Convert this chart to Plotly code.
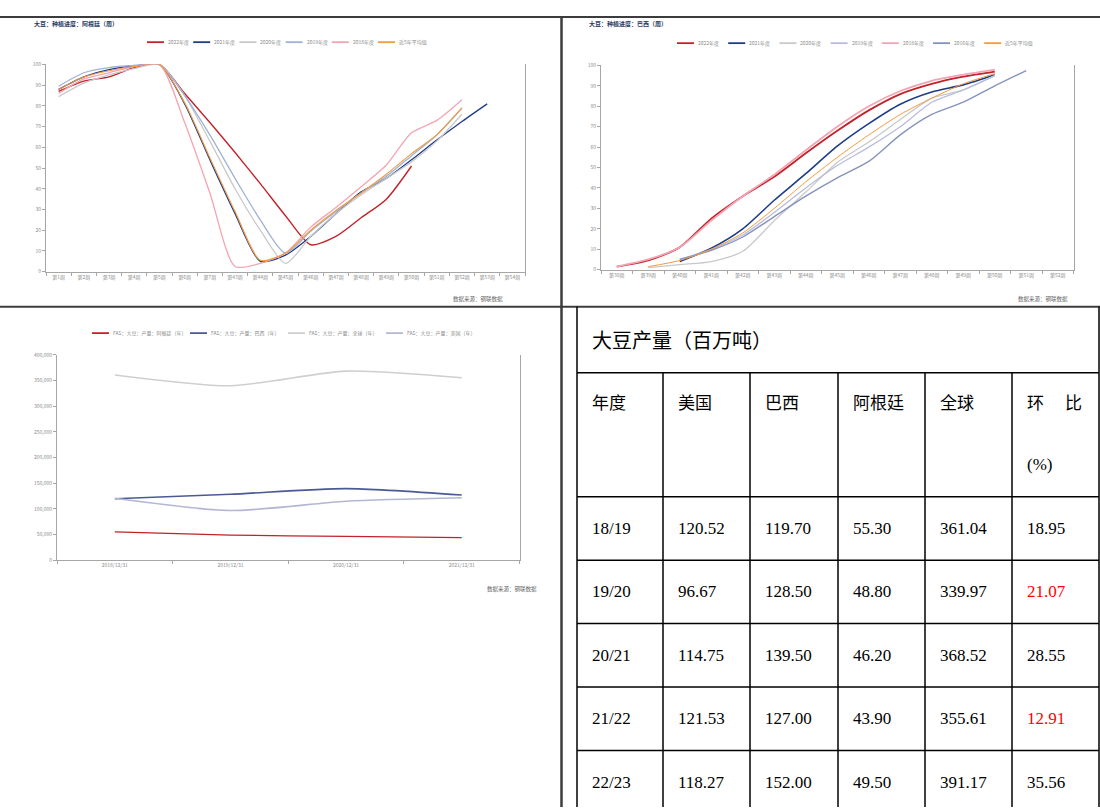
import plotly.graph_objects as go

W, H = 1100, 810
def X(p): return p / W
def Y(p): return 1 - p / H

# ---------------- data: Argentina planting progress (weekly, %) ----------------
ar_weeks = ["第1周", "第2周", "第3周", "第4周", "第5周", "第6周", "第7周", "第43周", "第44周",
            "第45周", "第46周", "第47周", "第48周", "第49周", "第50周", "第51周", "第52周",
            "第53周", "第54周"]
ar_names = ["2022年度", "2021年度", "2020年度", "2019年度", "2018年度", "近5年平均值"]
ar_2022 = [87, 92, 94, 98.5, 100, 86, 72, 57.5, 42.5, 27, 13, 17, 26, 35, 51, None, None, None, None]
ar_2021 = [88, 94, 97.5, 99.5, 100, 81, 54, 28, 5, 8, 17, 28, 38.5, 45, 54, 63.5, 72.5, 81, None]
ar_2020 = [84.5, 91, 95, 98, 100, 85, 63, 40, 20, 4, 17, 28, 37, 45, 53, 63, 76, None, None]
ar_2019 = [89.5, 96, 98.5, 99.5, 100, 85, 66, 45, 25, 9, 19.5, 29, 38, 46, 56, 66, 79, None, None]
ar_2018 = [86, 93, 96, 99, 100, 72, 38, 2.5, 4, 9, 21.5, 31, 41, 51.5, 67, 73, 83, None, None]
ar_avg5 = [88, 94, 97, 99, 100, 81.5, 55, 29, 5.5, 9, 20, 29.5, 38, 47, 57, 66, 79, None, None]

# ---------------- data: Brazil planting progress (weekly, %) ----------------
br_weeks = ["第38周", "第39周", "第40周", "第41周", "第42周", "第43周", "第44周", "第45周",
            "第46周", "第47周", "第48周", "第49周", "第50周", "第51周", "第52周"]
br_names = ["2022年度", "2021年度", "2020年度", "2019年度", "2018年度", "2016年度", "近5年平均值"]
br_2022 = [1.5, 4.5, 11, 25, 36, 45.5, 57, 68, 78, 86, 91, 94.5, 97, None, None]
br_2021 = [None, None, 4, 10.5, 20, 34, 47, 60.5, 71.5, 81, 87, 90.5, 95.5, None, None]
br_2020 = [None, 1, 2.5, 4, 9, 24, 38, 52.5, 62.5, 73.5, 84, 88, 95, None, None]
br_2019 = [None, None, 5, 10, 17, 28, 40, 51, 60, 70, 82, 88, 95, None, None]
br_2018 = [1.5, 5, 11, 24, 36, 46.5, 58.5, 70, 80, 87.5, 92.5, 95.5, 98, None, None]
br_2016 = [None, None, 5, 9.5, 16, 26, 36, 45, 53, 66, 76, 82, 90, 97.5, None]
br_avg5 = [None, 1.5, 4.5, 10, 18, 30, 43, 55, 66, 76, 84, 91, 96, None, None]

# ---------------- data: FAS soybean production (thousand tonnes) ----------------
fas_dates = ["2018/12/31", "2019/12/31", "2020/12/31", "2021/12/31"]
fas_names = ["FAS：大豆：产量：阿根廷（年）", "FAS：大豆：产量：巴西（年）",
             "FAS：大豆：产量：全球（年）", "FAS：大豆：产量：美国（年）"]
fas_argentina = [55300, 48800, 46200, 43900]
fas_brazil = [119700, 128500, 139500, 127000]
fas_world = [361040, 339970, 368520, 355610]
fas_us = [120520, 96670, 114750, 121530]

# ---------------- data: table ----------------
table_title = "大豆产量（百万吨）"
table_headers = ["年度", "美国", "巴西", "阿根廷", "全球", "环比(%)"]
tb_season = ["18/19", "19/20", "20/21", "21/22", "22/23"]
tb_us = [120.52, 96.67, 114.75, 121.53, 118.27]
tb_brazil = [119.70, 128.50, 139.50, 127.00, 152.00]
tb_argentina = [55.30, 48.80, 46.20, 43.90, 49.50]
tb_world = [361.04, 339.97, 368.52, 355.61, 391.17]
tb_change = [18.95, 21.07, 28.55, 12.91, 35.56]
tb_change_red = [False, True, False, True, False]

# ---------------- styles ----------------
CJK = "Noto Sans CJK SC"
SERIF = "Liberation Serif, Noto Sans CJK SC"
AXIS_C = "#a6a6a6"
TICK_TXT = "#8a8a8a"
RED, NAVY, LGRAY, LBLUE, PINK, ORANGE, GBLUE = ("#c1232b", "#1f3c88", "#c9c9c9", "#9fb2d6",
                                                 "#f2a4b3", "#f39a3c", "#8593bd")

fig = go.Figure()

def add_lines(cats, series, names, colors, widths, xa, ya):
    for vals, name, c, w in zip(series, names, colors, widths):
        fig.add_trace(go.Scatter(x=cats, y=vals, name=name, mode="lines",
                                 line=dict(color=c, width=w, shape="spline", smoothing=0.7),
                                 connectgaps=False, showlegend=False, xaxis=xa, yaxis=ya,
                                 hoverinfo="skip"))

ar_colors = [RED, NAVY, LGRAY, LBLUE, PINK, ORANGE]
add_lines(ar_weeks, [ar_2022, ar_2021, ar_2020, ar_2019, ar_2018, ar_avg5], ar_names,
          ar_colors, [1.4, 1.3, 1.3, 1.3, 1.3, 1.1], "x", "y")

br_colors = [RED, NAVY, LGRAY, "#b8bddb", PINK, GBLUE, ORANGE]
add_lines(br_weeks, [br_2022, br_2021, br_2020, br_2019, br_2018, br_2016, br_avg5], br_names,
          br_colors, [1.8, 1.6, 1.3, 1.3, 1.8, 1.4, 1.0], "x2", "y2")

fas_colors = [RED, "#4a5a95", "#cfcfcf", "#b3b6d4"]
add_lines(fas_dates, [fas_argentina, fas_brazil, fas_world, fas_us], fas_names,
          fas_colors, [1.3, 1.6, 1.6, 1.6], "x3", "y3")

def xcat(domain, cats, anchor):
    return dict(domain=domain, anchor=anchor, type="category", categoryarray=cats,
                categoryorder="array", range=[-0.5, len(cats) - 0.5], tickson="boundaries",
                ticks="outside", ticklen=3, tickcolor=AXIS_C, showline=True, linecolor=AXIS_C,
                linewidth=1, showgrid=False, zeroline=False,
                tickfont=dict(family=CJK, size=5, color=TICK_TXT), fixedrange=True)

def yval(domain, rng, dtick, anchor, fmt=None):
    d = dict(domain=domain, anchor=anchor, range=rng, dtick=dtick, ticks="outside", ticklen=3,
             tickcolor=AXIS_C, showline=True, mirror=True, linecolor=AXIS_C, linewidth=1,
             showgrid=False, zeroline=False,
             tickfont=dict(family=CJK, size=5, color=TICK_TXT), fixedrange=True)
    if fmt:
        d["tickformat"] = fmt
    return d

fig.update_layout(
    width=W, height=H, margin=dict(l=0, r=0, t=0, b=0),
    paper_bgcolor="white", plot_bgcolor="white", showlegend=False,
    xaxis=xcat([X(46), X(525)], ar_weeks, "y"),
    yaxis=yval([Y(270), Y(61)], [0, 100], 10, "x"),
    xaxis2=xcat([X(601), X(1073.5)], br_weeks, "y2"),
    yaxis2=yval([Y(268), Y(62)], [0, 100], 10, "x2"),
    xaxis3=xcat([X(57), X(519.5)], fas_dates, "y3"),
    yaxis3=yval([Y(561), Y(354)], [0, 400000], 50000, "x3", ","),
)

shapes = []
annotations = []

def line(x0, y0, x1, y1, color, width):
    shapes.append(dict(type="line", xref="paper", yref="paper", x0=X(x0), y0=Y(y0),
                       x1=X(x1), y1=Y(y1), line=dict(color=color, width=width)))

def text(x, y, s, size, color="#000", family=CJK, xanchor="left", yanchor="middle"):
    annotations.append(dict(xref="paper", yref="paper", x=X(x), y=Y(y), text=s, showarrow=False,
                            xanchor=xanchor, yanchor=yanchor,
                            font=dict(family=family, size=size, color=color)))

# manual legends
def legend(names, colors, x0, step, y, seg=17):
    for i, (n, c) in enumerate(zip(names, colors)):
        xs = x0 + i * step
        line(xs, y, xs + seg, y, c, 1.8)
        text(xs + seg + 2, y, n, 5, "#8a8a8a")

legend(ar_names, ar_colors, 147, 46.2, 38.5)
legend(br_names, br_colors, 677, 51.2, 39.5)
legend(fas_names, fas_colors, 92, 98, 332)

# chart titles and sources
text(32, 19.5, "<b>大豆：种植进度：阿根廷（周）</b>", 6, "#2b3a63")
text(587, 20, "<b>大豆：种植进度：巴西（周）</b>", 6, "#2b3a63")
text(505, 298, "数据来源：钢联数据", 5.5, "#666", xanchor="right")
text(1070, 298, "数据来源：钢联数据", 5.5, "#666", xanchor="right")
text(539, 590, "数据来源：钢联数据", 5.5, "#666", xanchor="right")

# frame lines
FRAME = "#3c3c3c"
line(0, 13, 1100, 13, FRAME, 2)
line(561.5, 13, 561.5, 810, FRAME, 2.5)
line(0, 305.5, 1100, 305.5, FRAME, 2)

# table
col_x = [577, 663, 750, 838, 925, 1012, 1099]
title_bottom = 372
header_bottom = 497
row_h = 64
TB = "#000000"
line(577, 305.5, 577, 810, TB, 1.5)
line(1099, 305.5, 1099, 810, TB, 1.5)
line(577, title_bottom, 1099, title_bottom, TB, 1.5)
line(577, header_bottom, 1099, header_bottom, TB, 1.5)
for k in range(1, len(tb_season)):
    yy = header_bottom + k * row_h
    line(577, yy, 1099, yy, TB, 1.5)
for cx in col_x[1:-1]:
    line(cx, title_bottom, cx, 810, TB, 1.5)

text(590, 340, table_title, 20, "#000", SERIF)
for j, h in enumerate(table_headers[:-1]):
    text(col_x[j] + 13, 403, h, 17, "#000", SERIF)
last = table_headers[-1]
text(col_x[5] + 13, 403, last[0], 17, "#000", SERIF)
text(col_x[6] - 15, 403, last[1], 17, "#000", SERIF, xanchor="right")
text(col_x[5] + 13, 465, last[2:], 17, "#000", SERIF)

columns = [tb_season,
           [f"{v:.2f}" for v in tb_us],
           [f"{v:.2f}" for v in tb_brazil],
           [f"{v:.2f}" for v in tb_argentina],
           [f"{v:.2f}" for v in tb_world],
           [f"{v:.2f}" for v in tb_change]]
for r in range(len(tb_season)):
    cy = header_bottom + r * row_h + row_h / 2
    for j, col in enumerate(columns):
        color = "#ff0000" if (j == 5 and tb_change_red[r]) else "#000"
        text(col_x[j] + 13, cy, col[r], 17, color, SERIF)

fig.update_layout(shapes=shapes, annotations=annotations)
fig.write_html("out.html")
